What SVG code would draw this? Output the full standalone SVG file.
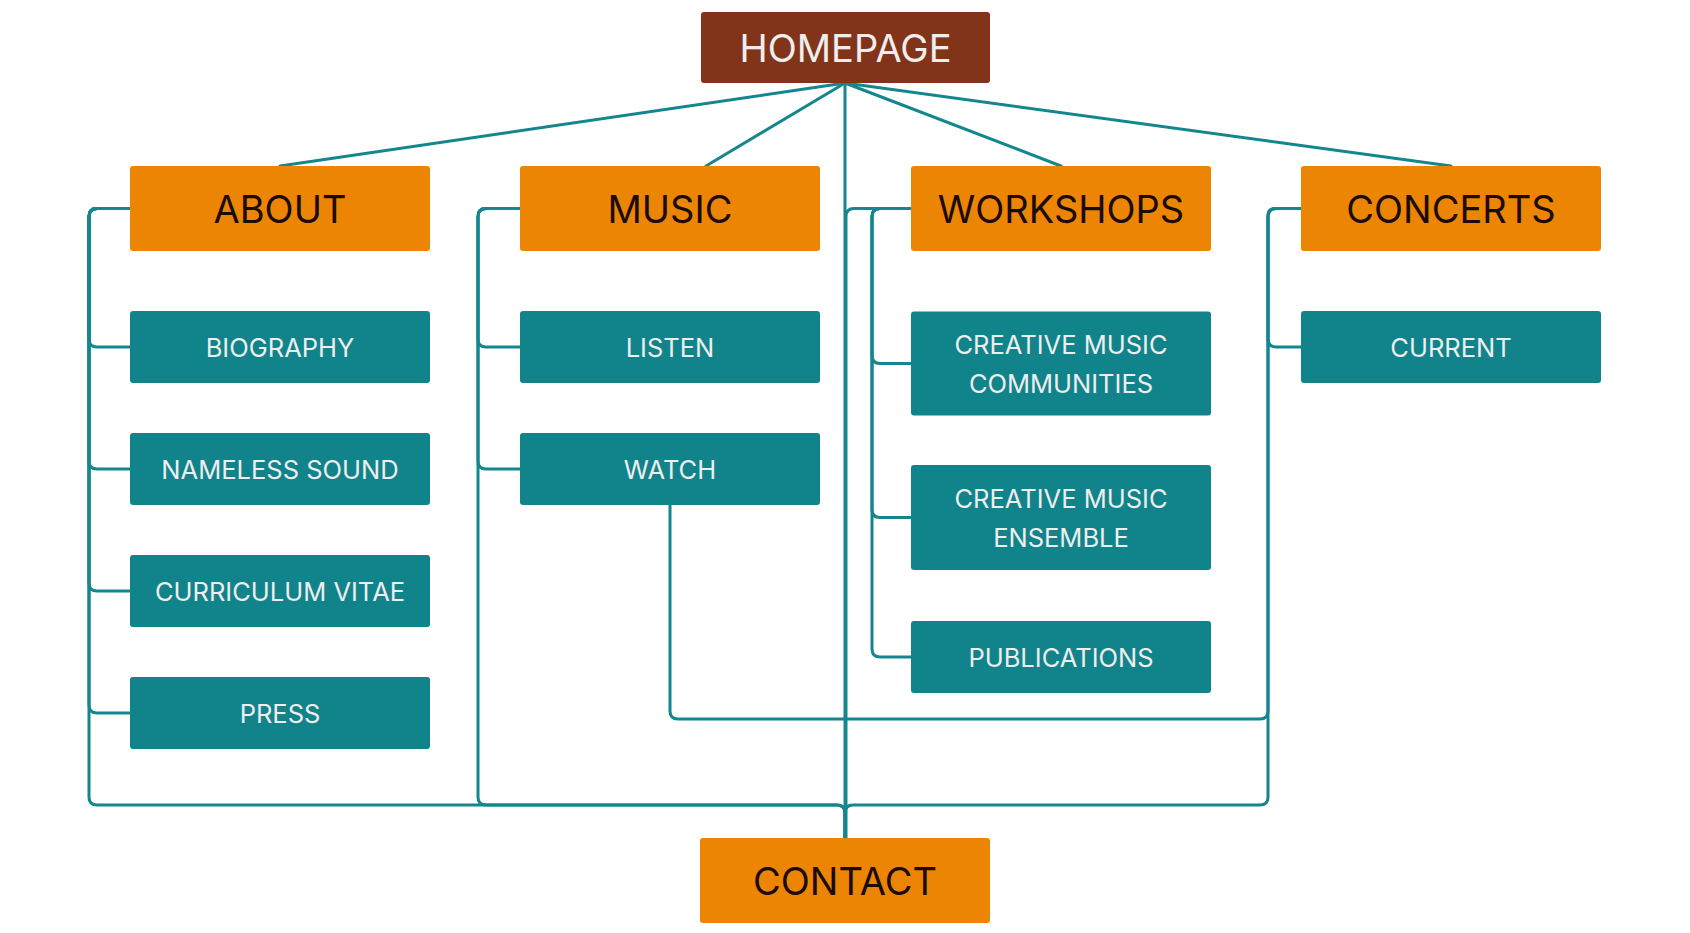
<svg xmlns="http://www.w3.org/2000/svg" width="1690" height="933" viewBox="0 0 1690 933">
<style>
.conn{fill:none;stroke:#14868D;stroke-width:3;stroke-linejoin:round;stroke-linecap:round}
.home{fill:#82341A}
.top{fill:#EB8503}
.sub{fill:#11838A}
.tl{font-family:Inter,"Noto Sans","Liberation Sans",sans-serif;font-size:38px;text-anchor:middle}
.sl{font-family:Inter,"Noto Sans","Liberation Sans",sans-serif;font-size:25.5px;text-anchor:middle;fill:#EEEEEE}
.dark{fill:#1C0B02}
.light{fill:#EEEEEE}
</style>
<rect width="1690" height="933" fill="#FFFFFF"/>
<g id="connectors">
<path class="conn" d="M845 83 L280 166"/>
<path class="conn" d="M845 83 L706 166"/>
<path class="conn" d="M845 83 L1061 166"/>
<path class="conn" d="M845 83 L1451 166"/>
<path class="conn" d="M845 83 V838"/>
<path class="conn" d="M130 208.5 H97 Q89 208.5 89 216.5 V339 Q89 347 97 347 H130"/>
<path class="conn" d="M130 208.5 H97 Q89 208.5 89 216.5 V461 Q89 469 97 469 H130"/>
<path class="conn" d="M130 208.5 H97 Q89 208.5 89 216.5 V583 Q89 591 97 591 H130"/>
<path class="conn" d="M130 208.5 H97 Q89 208.5 89 216.5 V705 Q89 713 97 713 H130"/>
<path class="conn" d="M130 208.5 H97 Q89 208.5 89 216.5 V797 Q89 805 97 805 H837 Q845 805 845 813 V838"/>
<path class="conn" d="M520 208.5 H486 Q478 208.5 478 216.5 V339 Q478 347 486 347 H520"/>
<path class="conn" d="M520 208.5 H486 Q478 208.5 478 216.5 V461 Q478 469 486 469 H520"/>
<path class="conn" d="M520 208.5 H486 Q478 208.5 478 216.5 V797 Q478 805 486 805 H837 Q845 805 845 813 V838"/>
<path class="conn" d="M911 208.5 H880 Q872 208.5 872 216.5 V355.5 Q872 363.5 880 363.5 H911"/>
<path class="conn" d="M911 208.5 H880 Q872 208.5 872 216.5 V509.5 Q872 517.5 880 517.5 H911"/>
<path class="conn" d="M911 208.5 H880 Q872 208.5 872 216.5 V649 Q872 657 880 657 H911"/>
<path class="conn" d="M911 208.5 H854 Q846 208.5 846 216.5 V838"/>
<path class="conn" d="M1301 208.5 H1276 Q1268 208.5 1268 216.5 V339 Q1268 347 1276 347 H1301"/>
<path class="conn" d="M1301 208.5 H1276 Q1268 208.5 1268 216.5 V711 Q1268 719 1260 719 H678 Q670 719 670 711 V505"/>
<path class="conn" d="M1301 208.5 H1276 Q1268 208.5 1268 216.5 V797 Q1268 805 1260 805 H853 Q845 805 845 813 V838"/>
</g>
<g id="homepage"><rect class="home" x="701" y="12" width="289" height="71" rx="3"/><text class="tl light" x="845.5" y="61.5">HOMEPAGE</text></g>
<g id="about"><rect class="top" x="130" y="166" width="300" height="85" rx="3"/><text class="tl dark" x="280" y="222.5">ABOUT</text></g>
<g id="music"><rect class="top" x="520" y="166" width="300" height="85" rx="3"/><text class="tl dark" x="670" y="222.5">MUSIC</text></g>
<g id="workshops"><rect class="top" x="911" y="166" width="300" height="85" rx="3"/><text class="tl dark" x="1061" y="222.5">WORKSHOPS</text></g>
<g id="concerts"><rect class="top" x="1301" y="166" width="300" height="85" rx="3"/><text class="tl dark" x="1451" y="222.5">CONCERTS</text></g>
<g id="biography"><rect class="sub" x="130" y="311" width="300" height="72" rx="3"/><text class="sl" x="280" y="356.5">BIOGRAPHY</text></g>
<g id="nameless-sound"><rect class="sub" x="130" y="433" width="300" height="72" rx="3"/><text class="sl" x="280" y="478.5">NAMELESS SOUND</text></g>
<g id="curriculum-vitae"><rect class="sub" x="130" y="555" width="300" height="72" rx="3"/><text class="sl" x="280" y="600.5">CURRICULUM VITAE</text></g>
<g id="press"><rect class="sub" x="130" y="677" width="300" height="72" rx="3"/><text class="sl" x="280" y="722.5">PRESS</text></g>
<g id="listen"><rect class="sub" x="520" y="311" width="300" height="72" rx="3"/><text class="sl" x="670" y="356.5">LISTEN</text></g>
<g id="watch"><rect class="sub" x="520" y="433" width="300" height="72" rx="3"/><text class="sl" x="670" y="478.5">WATCH</text></g>
<g id="creative-music-communities"><rect class="sub" x="911" y="311.5" width="300" height="104" rx="3"/><text class="sl" x="1061" y="353.5">CREATIVE MUSIC</text><text class="sl" x="1061" y="392.5">COMMUNITIES</text></g>
<g id="creative-music-ensemble"><rect class="sub" x="911" y="465" width="300" height="105" rx="3"/><text class="sl" x="1061" y="507.5">CREATIVE MUSIC</text><text class="sl" x="1061" y="546.5">ENSEMBLE</text></g>
<g id="publications"><rect class="sub" x="911" y="621" width="300" height="72" rx="3"/><text class="sl" x="1061" y="666.5">PUBLICATIONS</text></g>
<g id="current"><rect class="sub" x="1301" y="311" width="300" height="72" rx="3"/><text class="sl" x="1451" y="356.5">CURRENT</text></g>
<g id="contact"><rect class="top" x="700" y="838" width="290" height="85" rx="3"/><text class="tl dark" x="845" y="894.5">CONTACT</text></g>
</svg>
